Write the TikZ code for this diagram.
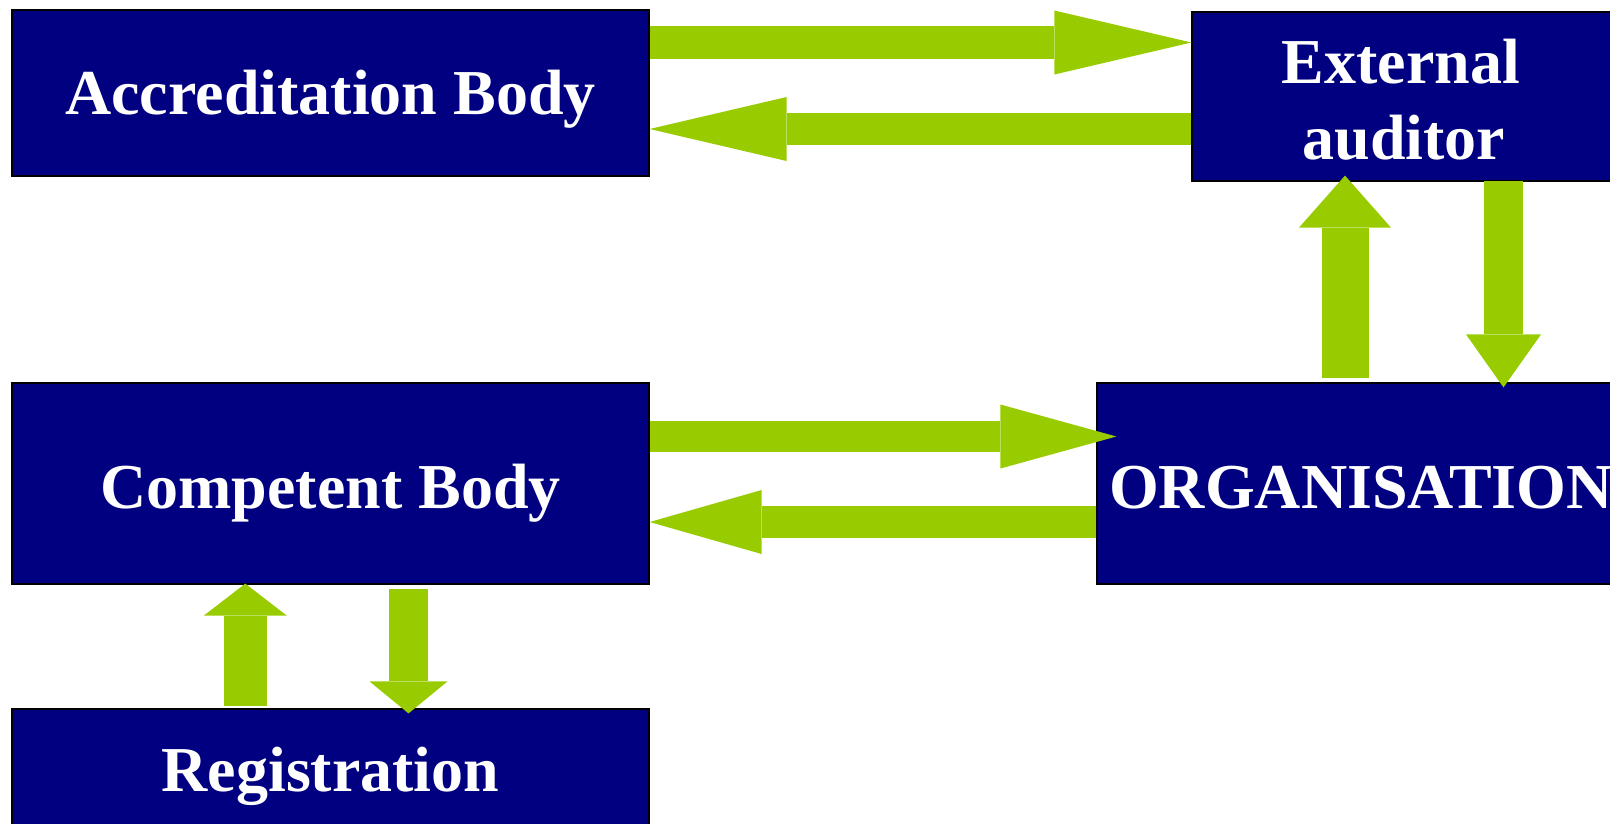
\documentclass[tikz,border=0pt]{standalone}
\usepackage{fontspec}
\setmainfont{Liberation Serif}
\usetikzlibrary{arrows.meta}
\definecolor{boxnavy}{HTML}{000080}
\definecolor{arrowgreen}{HTML}{99CC00}
\begin{document}
\begin{tikzpicture}[x=1pt,y=-1pt,
  bigfont/.style={font=\fontsize{64}{75}\selectfont\bfseries},
  box/.style={rectangle, fill=boxnavy, draw=black, line width=1.2pt, inner sep=0pt,
    text=white, bigfont, text height=43pt, text depth=0pt},
  lbl/.style={text=white, bigfont, inner sep=0pt, anchor=base},
  barrow/.style n args={3}{draw=arrowgreen, line width=#1,
    -{Triangle[length=#3, width=#2, line width=0pt, fill=arrowgreen]}}
]
\useasboundingbox (0,0) rectangle (1610,823);
% boxes
\node[box, minimum width=637pt, minimum height=166pt] (acc) at (330.5,93) {Accreditation Body};
\node[box, minimum width=419pt, minimum height=169pt] (ext) at (1401.5,96.5) {};
\node[lbl] (ext1) at (1401,83) {External};
\node[lbl] (ext2) at (1404,159) {auditor};
\node[box, text height=49pt, minimum width=637pt, minimum height=201pt] (comp) at (330.5,483.5) {Competent Body};
\node[box, text height=49pt, minimum width=528pt, minimum height=201pt] (org) at (1361,483.5) {ORGANISATION};
\node[box, minimum width=637pt, minimum height=122pt] (reg) at (330.5,770) {Registration};
% helper coordinates
\coordinate (y1) at (0,42.5);
\coordinate (y2) at (0,129);
\coordinate (x3) at (1345,0);
\coordinate (x4) at (1503.5,0);
\coordinate (y5) at (0,436.5);
\coordinate (y6) at (0,522);
\coordinate (x7) at (245.3,0);
\coordinate (x8) at (408.5,0);
% arrows
\draw[barrow={33pt}{64pt}{137pt}] (acc.east |- y1) -- (ext.west |- y1);
\draw[barrow={32pt}{64pt}{137pt}] (ext.west |- y2) -- (acc.east |- y2);
\draw[barrow={47pt}{92pt}{52pt}] ([yshift=4pt]org.north -| x3) -- ([yshift=6pt]ext.south -| x3);
\draw[barrow={39pt}{75pt}{53pt}] ([yshift=1pt]ext.south -| x4) -- ([yshift=-5pt]org.north -| x4);
\draw[barrow={31pt}{64pt}{116pt}] (comp.east |- y5) -- ([xshift=20pt]org.west |- y5);
\draw[barrow={32pt}{64pt}{112pt}] (org.west |- y6) -- (comp.east |- y6);
\draw[barrow={43pt}{83pt}{32pt}] ([yshift=2pt]reg.north -| x7) -- ([yshift=1pt]comp.south -| x7);
\draw[barrow={39pt}{78pt}{32pt}] ([yshift=-4pt]comp.south -| x8) -- ([yshift=-5pt]reg.north -| x8);
\end{tikzpicture}
\end{document}
